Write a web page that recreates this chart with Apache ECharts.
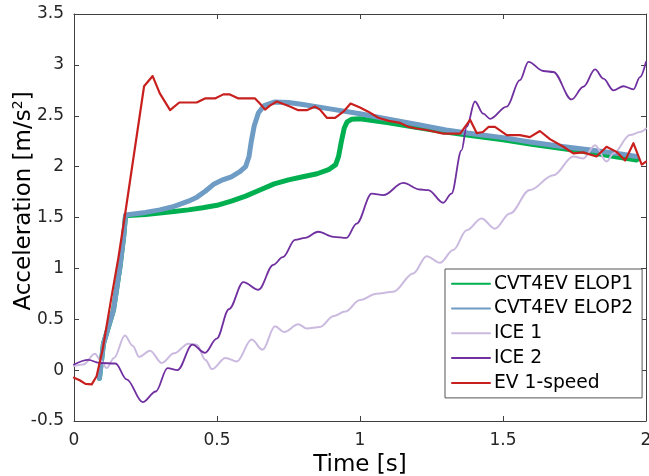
<!DOCTYPE html>
<html>
<head>
<meta charset="utf-8">
<script src="https://cdn.jsdelivr.net/npm/echarts@6/dist/echarts.min.js"></script>
<style>
  html, body { margin: 0; padding: 0; background: #ffffff; }
  #chart { width: 649px; height: 476px; }
</style>
</head>
<body>
<div id="chart"></div>
<script>
// Axis ticks
const xTicks = [0, 0.5, 1, 1.5, 2];
const yTicks = [-0.5, 0, 0.5, 1, 1.5, 2, 2.5, 3, 3.5];

// Series names (legend order)
const seriesNames = ['CVT4EV ELOP1', 'CVT4EV ELOP2', 'ICE 1', 'ICE 2', 'EV 1-speed'];

// Acceleration traces, [time s, acceleration m/s^2]
const cvtElop1 = [
  [0.089, -0.08], [0.103, 0.26], [0.138, 0.59], [0.161, 1.02], [0.174, 1.32], [0.18, 1.51],
  [0.19, 1.52], [0.25, 1.53], [0.3, 1.545], [0.35, 1.56], [0.4, 1.575], [0.45, 1.595],
  [0.5, 1.62], [0.55, 1.66], [0.6, 1.71], [0.65, 1.77], [0.7, 1.83], [0.75, 1.87],
  [0.8, 1.9], [0.85, 1.93], [0.89, 1.97], [0.915, 2.02], [0.925, 2.1], [0.935, 2.25],
  [0.945, 2.38], [0.955, 2.44], [0.97, 2.465], [1.0, 2.47], [1.1, 2.43], [1.2, 2.385],
  [1.3, 2.34], [1.4, 2.3], [1.5, 2.265], [1.6, 2.22], [1.7, 2.18], [1.8, 2.14],
  [1.9, 2.095], [1.967, 2.065]
];

const cvtElop2 = [
  [0.089, -0.08], [0.103, 0.26], [0.138, 0.59], [0.161, 1.02], [0.174, 1.32], [0.18, 1.525],
  [0.25, 1.55], [0.3, 1.575], [0.35, 1.61], [0.4, 1.66], [0.43, 1.7], [0.46, 1.76],
  [0.49, 1.83], [0.52, 1.87], [0.55, 1.9], [0.58, 1.95], [0.6, 2.0], [0.612, 2.1],
  [0.62, 2.25], [0.63, 2.4], [0.645, 2.53], [0.665, 2.6], [0.7, 2.635], [0.75, 2.63],
  [0.8, 2.61], [0.9, 2.565], [1.0, 2.52], [1.1, 2.465], [1.2, 2.415], [1.3, 2.36],
  [1.4, 2.32], [1.5, 2.285], [1.6, 2.24], [1.7, 2.2], [1.8, 2.165], [1.9, 2.13], [1.967, 2.1]
];

const ice1 = [
  [0, 0.04], [0.033, 0.055], [0.073, 0.16], [0.095, 0.09], [0.114, 0.02], [0.14, 0.12],
  [0.178, 0.34], [0.205, 0.24], [0.228, 0.13], [0.266, 0.19], [0.307, 0.07], [0.35, 0.165],
  [0.4, 0.26], [0.429, 0.25], [0.46, 0.1], [0.482, 0.01], [0.53, 0.12], [0.569, 0.085],
  [0.621, 0.3], [0.659, 0.2], [0.703, 0.43], [0.735, 0.375], [0.784, 0.45], [0.814, 0.41],
  [0.86, 0.425], [0.907, 0.53], [0.948, 0.575], [1.0, 0.69], [1.058, 0.75], [1.116, 0.77],
  [1.186, 0.95], [1.233, 1.12], [1.28, 1.055], [1.326, 1.18], [1.373, 1.375], [1.425, 1.49],
  [1.472, 1.39], [1.524, 1.54], [1.594, 1.77], [1.676, 1.915], [1.746, 2.1], [1.781, 2.08],
  [1.822, 2.21], [1.862, 2.05], [1.886, 2.13], [1.944, 2.31], [1.979, 2.34], [2.0, 2.375]
];

const ice2 = [
  [0, 0.055], [0.05, 0.1], [0.091, 0.07], [0.145, 0.065], [0.184, -0.09], [0.24, -0.315],
  [0.286, -0.21], [0.327, 0.02], [0.362, 0.0], [0.414, 0.25], [0.458, 0.17], [0.499, 0.31],
  [0.542, 0.6], [0.592, 0.865], [0.645, 0.79], [0.697, 1.035], [0.73, 1.11], [0.773, 1.28],
  [0.808, 1.3], [0.854, 1.36], [0.907, 1.31], [0.953, 1.3], [0.988, 1.44], [1.041, 1.735],
  [1.082, 1.72], [1.151, 1.84], [1.21, 1.775], [1.239, 1.77], [1.291, 1.645], [1.32, 1.735],
  [1.355, 2.16], [1.373, 2.39], [1.402, 2.64], [1.431, 2.52], [1.455, 2.47], [1.513, 2.59],
  [1.559, 2.85], [1.589, 3.03], [1.641, 2.94], [1.676, 2.93], [1.74, 2.66], [1.781, 2.785],
  [1.822, 2.955], [1.851, 2.865], [1.886, 2.75], [1.921, 2.79], [1.956, 2.76], [1.979, 2.88],
  [2.0, 3.03]
];

const ev1Speed = [
  [0, -0.075], [0.02, -0.1], [0.04, -0.135], [0.062, -0.14], [0.079, -0.06], [0.1, 0.2],
  [0.13, 0.7], [0.155, 1.1], [0.178, 1.52], [0.245, 2.79], [0.275, 2.89], [0.3, 2.72],
  [0.336, 2.555], [0.368, 2.63], [0.429, 2.63], [0.458, 2.67], [0.493, 2.67], [0.522, 2.71],
  [0.545, 2.71], [0.575, 2.67], [0.633, 2.67], [0.65, 2.62], [0.668, 2.56], [0.685, 2.6],
  [0.709, 2.64], [0.755, 2.59], [0.784, 2.555], [0.814, 2.555], [0.843, 2.59], [0.86, 2.56],
  [0.884, 2.48], [0.913, 2.48], [0.942, 2.54], [0.967, 2.62], [1.0, 2.58], [1.029, 2.54],
  [1.064, 2.48], [1.1, 2.45], [1.14, 2.43], [1.17, 2.39], [1.198, 2.375], [1.233, 2.36],
  [1.291, 2.325], [1.35, 2.325], [1.385, 2.46], [1.408, 2.33], [1.43, 2.34], [1.449, 2.39],
  [1.472, 2.39], [1.513, 2.31], [1.559, 2.31], [1.594, 2.29], [1.629, 2.35], [1.664, 2.27],
  [1.711, 2.195], [1.746, 2.13], [1.78, 2.14], [1.827, 2.1], [1.862, 2.195], [1.897, 2.145],
  [1.927, 2.06], [1.956, 2.23], [1.985, 2.02], [2.0, 2.05]
];

const seriesData = [cvtElop1, cvtElop2, ice1, ice2, ev1Speed];
const seriesColors = ['#00b050', '#6e9cc4', '#cbbadf', '#7030a0', '#c8201e'];
const seriesWidths = [5, 5, 2, 1.8, 2.2];
const seriesSmooth = [false, false, 0.35, 0.35, false];

const FONT = 'DejaVu Sans';
const AXIS_COLOR = '#404040';
const TEXT_COLOR = '#262626';

const chart = echarts.init(document.getElementById('chart'), null, { renderer: 'canvas' });

const boxAxisCommon = {
  axisLine: { show: true, onZero: false, lineStyle: { color: AXIS_COLOR, width: 1 } },
  axisTick: { show: true, inside: true, length: 5, lineStyle: { color: AXIS_COLOR, width: 1 } },
  splitLine: { show: false }
};

const xMin = xTicks[0], xMax = xTicks[xTicks.length - 1], xStep = xTicks[1] - xTicks[0];
const yMin = yTicks[0], yMax = yTicks[yTicks.length - 1], yStep = yTicks[1] - yTicks[0];

chart.setOption({
  animation: false,
  backgroundColor: '#ffffff',
  textStyle: { fontFamily: FONT },
  grid: { left: 74, right: 3, top: 14, bottom: 55, containLabel: false, outerBoundsMode: 'none' },
  xAxis: [
    Object.assign({
      type: 'value', position: 'bottom', min: xMin, max: xMax, interval: xStep,
      axisLabel: { color: TEXT_COLOR, fontSize: 17, fontFamily: FONT, margin: 11 },
      name: 'Time [s]', nameLocation: 'middle', nameGap: 24,
      nameTextStyle: { color: '#000000', fontSize: 23, fontFamily: FONT }
    }, boxAxisCommon),
    Object.assign({
      type: 'value', position: 'top', min: xMin, max: xMax, interval: xStep,
      axisLabel: { show: false }
    }, boxAxisCommon)
  ],
  yAxis: [
    Object.assign({
      type: 'value', position: 'left', min: yMin, max: yMax, interval: yStep,
      axisLabel: { color: TEXT_COLOR, fontSize: 17, fontFamily: FONT, margin: 10 }
    }, boxAxisCommon),
    Object.assign({
      type: 'value', position: 'right', min: yMin, max: yMax, interval: yStep,
      axisLabel: { show: false }
    }, boxAxisCommon)
  ],
  // Vertical axis title with a superscript unit
  graphic: [{
    type: 'text',
    x: 24, y: 201,
    rotation: Math.PI / 2,
    style: {
      text: '{a|Acceleration [m/s}{s|2}{a|]}',
      align: 'center',
      verticalAlign: 'middle',
      rich: {
        a: { fontSize: 23, fontFamily: FONT, fill: '#000000', lineHeight: 26 },
        s: { fontSize: 14, fontFamily: FONT, fill: '#000000', verticalAlign: 'top', lineHeight: 26 }
      }
    }
  }],
  legend: {
    show: true,
    orient: 'vertical',
    left: 445, top: 269,
    data: seriesNames,
    itemWidth: 38, itemHeight: 20, itemGap: 4.8,
    padding: [4.7, 9, 5, 6],
    backgroundColor: '#ffffff',
    borderColor: '#555555', borderWidth: 1, borderRadius: 0,
    itemStyle: { opacity: 0 },
    textStyle: { color: '#000000', fontSize: 18.7, fontFamily: FONT, lineHeight: 20, padding: [0, 0, 0, -1] }
  },
  series: seriesNames.map((name, i) => ({
    name: name,
    type: 'line',
    data: seriesData[i],
    xAxisIndex: 0, yAxisIndex: 0,
    showSymbol: false, symbol: 'none',
    smooth: seriesSmooth[i],
    smoothMonotone: seriesSmooth[i] ? 'x' : undefined,
    clip: true,
    lineStyle: { color: seriesColors[i], width: seriesWidths[i], join: 'round', cap: 'round' },
    itemStyle: { color: seriesColors[i] },
    emphasis: { disabled: true }
  }))
});
</script>
</body>
</html>
